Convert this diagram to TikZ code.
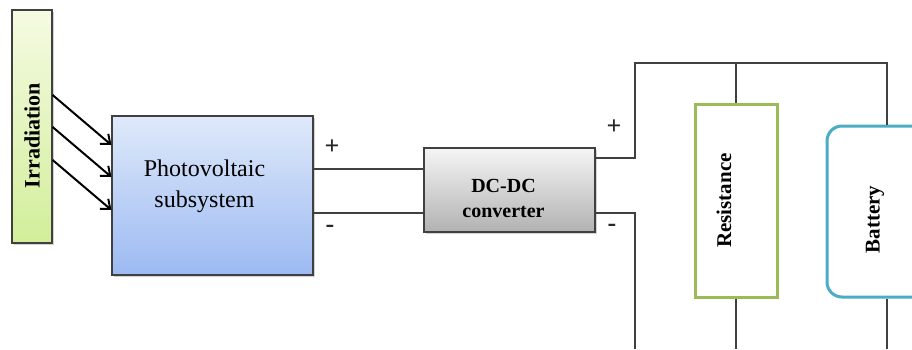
\documentclass[tikz,border=0pt]{standalone}
\usepackage{fontspec}
\setmainfont{Liberation Serif}
\usepackage{tikz}
\usetikzlibrary{positioning,calc,shadows,arrows.meta}

\definecolor{IrrTop}{HTML}{F5FBE2}
\definecolor{IrrBot}{HTML}{D2EE9A}
\definecolor{PvTop}{HTML}{DFE9FA}
\definecolor{PvBot}{HTML}{9CBAF2}
\definecolor{ConvTop}{HTML}{F5F5F5}
\definecolor{ConvBot}{HTML}{B2B2B2}
\definecolor{ResGreen}{HTML}{9BBB59}
\definecolor{BatTeal}{HTML}{4BACC6}
\definecolor{WireGray}{HTML}{404040}

\tikzset{
  block/.style={draw=WireGray, line width=0.6pt, inner sep=0pt,
    drop shadow={opacity=0.35, shadow xshift=1pt, shadow yshift=-1pt}},
  load/.style={line width=1.5pt, fill=white, inner sep=0pt},
  wire/.style={WireGray, line width=0.65pt},
  ray/.style={black, line width=1pt, -{Straight Barb[length=4pt,width=6.5pt]}},
  sign/.style={font=\fontsize{13}{13}\selectfont\bfseries, text=black!85}
}

\begin{document}
\begin{tikzpicture}[x=0.5pt,y=-0.5pt]
\useasboundingbox (0,0) rectangle (912,349);
\clip (0,0) rectangle (912,349);

% source side
\node[block, top color=IrrTop, bottom color=IrrBot, minimum width=20pt, minimum height=116.5pt,
  font=\fontsize{11}{11}\selectfont\bfseries] (irr) at (32,126.5)
  {\rotatebox{90}{Irradiation\hspace*{9pt}}};
\node[block, top color=PvTop, bottom color=PvBot, minimum width=100.5pt, minimum height=79.5pt,
  font=\fontsize{12}{15.5}\selectfont] (pv) at (212.5,195.5)
  {\raisebox{5pt}[\height][\depth]{\begin{tabular}{@{}c@{}}Photovoltaic\hspace*{8pt}\\subsystem\hspace*{8pt}\end{tabular}}};
\node[block, top color=ConvTop, bottom color=ConvBot, minimum width=85.5pt, minimum height=42pt,
  font=\fontsize{10}{12.5}\selectfont\bfseries] (conv) at (509.5,190)
  {\raisebox{-5pt}[\height][\depth]{\begin{tabular}{@{}c@{}}DC-DC\hspace*{6pt}\\converter\hspace*{6pt}\end{tabular}}};

% loads
\node[load, draw=ResGreen, minimum width=41pt, minimum height=96.5pt,
  font=\fontsize{10.5}{10.5}\selectfont\bfseries] (res) at (736,200.5)
  {\rotatebox{90}{\raisebox{6pt}[\height][\depth]{Resistance}}};
\node[load, draw=BatTeal, rounded corners=7.5pt, minimum width=60pt, minimum height=85.5pt,
  font=\fontsize{10.5}{10.5}\selectfont\bfseries] (bat) at (887,211.5)
  {\rotatebox{90}{\raisebox{6pt}[\height][\depth]{Battery\hspace*{8pt}}}};

% light on the panel
\foreach \a/\b in {95/145,127/177,160/210}
  \draw[ray] (irr.east |- 0,\a) -- (pv.west |- 0,\b);

% dc link
\draw[wire] (pv.east |- 0,169) -- (conv.west |- 0,169);
\draw[wire] (pv.east |- 0,213) -- (conv.west |- 0,213);
\node[sign] (plusin) at (332,147) {+};
\node[sign] (minusin) at (330,229) {-};

% output bus
\coordinate (busp) at (635,63);
\coordinate (busm) at (635,349);
\draw[wire] (conv.east |- 0,158) -| (busp) -| (bat.north);
\draw[wire] (conv.east |- 0,213) -| (busm);
\draw[wire] (busp -| res.north) -- (res.north);
\draw[wire] (res.south) -- (res.south |- busm);
\draw[wire] (bat.south) -- (bat.south |- busm);
\node[sign] (plusout) at (614,127) {+};
\node[sign] (minusout) at (612,228) {-};
\end{tikzpicture}
\end{document}
